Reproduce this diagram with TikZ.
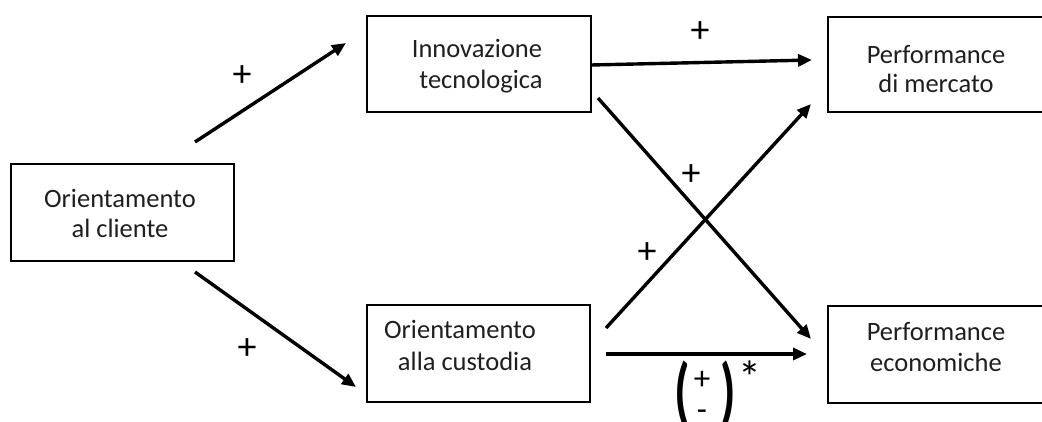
\documentclass[tikz,border=0pt]{standalone}
\usepackage{fontspec}
\setmainfont{Carlito}
\usetikzlibrary{arrows.meta}
\begin{document}
\begin{tikzpicture}[x=1pt,y=-1pt,
  box/.style={draw, line width=2pt, inner sep=0pt},
  conn/.style={line width=3.4pt, -{Triangle[length=14pt,width=12pt]}},
  txt/.style={font=\fontsize{26.5}{30}\selectfont, inner sep=0pt, anchor=base, text=black!88},
  sign/.style={font=\fontsize{38}{40}\selectfont, inner sep=0pt},
  smallsign/.style={font=\fontsize{33}{36}\selectfont, inner sep=0pt},
  starsign/.style={font=\fontsize{46}{50}\selectfont, inner sep=0pt, anchor=north},
  paren/.style={font=\bfseries\fontsize{50}{56}\selectfont, inner sep=0pt, yscale=1.5, anchor=north}]
\useasboundingbox (0,0) rectangle (1042,421);
\fill[white] (0,0) rectangle (1042,421);

% boxes
\node[box, minimum width=223pt, minimum height=97pt] (cli) at (122.5,212.5) {};
\node[box, minimum width=224pt, minimum height=96pt] (inn) at (479,64) {};
\node[box, minimum width=223pt, minimum height=97pt] (cus) at (478.5,353.5) {};
\node[box, minimum width=218pt, minimum height=95pt] (mer) at (937,64.5) {};
\node[box, minimum width=218pt, minimum height=97pt] (eco) at (937,354.5) {};

% texts
\node[txt] (cliA) at (120,207) {Orientamento};
\node[txt] (cliB) at (120,237) {al cliente};
\node[txt] (innA) at (477,57) {Innovazione};
\node[txt] (innB) at (481,88) {tecnologica};
\node[txt] (cusA) at (460,338) {Orientamento};
\node[txt] (cusB) at (465,370) {alla custodia};
\node[txt] (merA) at (936,63) {Performance};
\node[txt] (merB) at (936,92) {di mercato};
\node[txt] (ecoA) at (936,340) {Performance};
\node[txt] (ecoB) at (936,371) {economiche};

% connector end points
\coordinate (c1s) at (195,142);
\coordinate (c1e) at (346,43);
\coordinate (c2s) at (195,272);
\coordinate (c2e) at (356,387);
\coordinate (c3s) at (591,65);
\coordinate (c3e) at (812,60);
\coordinate (c4s) at (598,98);
\coordinate (c4e) at (811,339);
\coordinate (c5s) at (606,328);
\coordinate (c5e) at (811,104);
\coordinate (c6s) at (606,354);
\coordinate (c6e) at (807,354);

\draw[conn] (c1s) -- (c1e);
\draw[conn] (c2s) -- (c2e);
\draw[conn] (c3s) -- (c3e);
\draw[conn] (c4s) -- (c4e);
\draw[conn] (c5s) -- (c5e);
\draw[conn] (c6s) -- (c6e);

% signs
\node[sign] (p1) at (242,76) {+};
\node[sign] (p2) at (700,32) {+};
\node[sign] (p3) at (691,175) {+};
\node[sign] (p4) at (647,253) {+};
\node[sign] (p5) at (247,349) {+};

% (+ -)*
\node[paren] (lp) at (682,361) {(};
\node[smallsign] (pp) at (702,380) {+};
\node[smallsign] (mm) at (702,415) {-};
\node[paren] (rp) at (728,361) {)};
\node[starsign] (st) at (750,361) {*};
\end{tikzpicture}
\end{document}
